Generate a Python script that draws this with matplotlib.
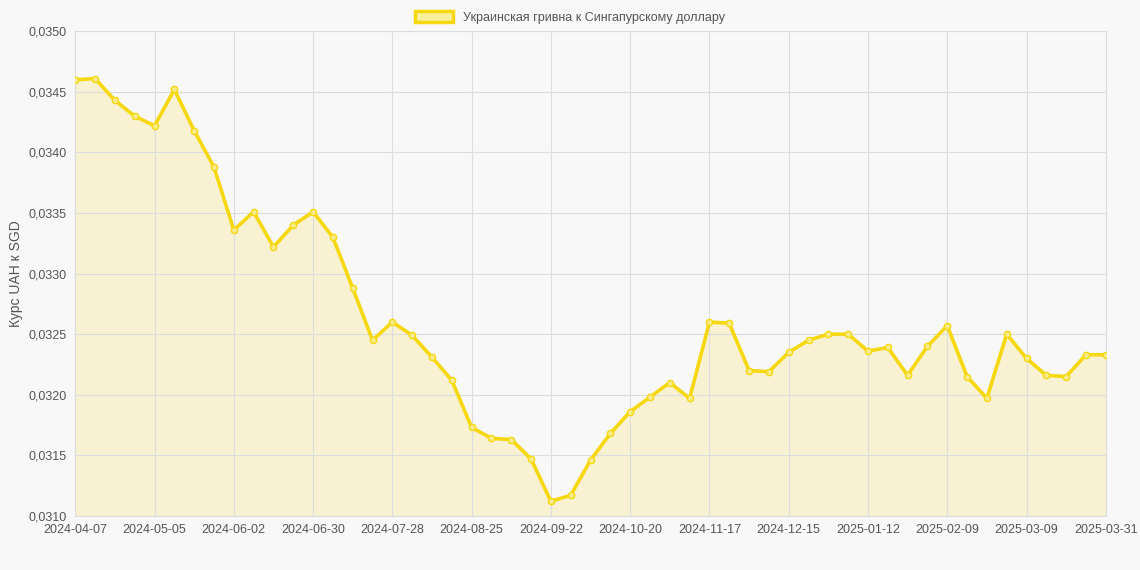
import datetime as dt

import matplotlib
matplotlib.use("Agg")
import matplotlib.pyplot as plt
from matplotlib.patches import Patch

plt.rcParams["font.family"] = ["Liberation Sans", "DejaVu Sans"]

start = dt.date(2024, 4, 7)
dates = [start + dt.timedelta(weeks=i) for i in range(52)] + [dt.date(2025, 3, 31)]
labels = [d.isoformat() for d in dates]
rates = [
    0.03460, 0.03461, 0.03443, 0.03430, 0.03422, 0.03452, 0.03418, 0.03388,
    0.03336, 0.03351, 0.03322, 0.03340, 0.03351, 0.03330, 0.03288, 0.03245,
    0.03260, 0.03249, 0.03231, 0.03212, 0.03173, 0.03164, 0.03163, 0.03147,
    0.03112, 0.03117, 0.03146, 0.03168, 0.03186, 0.03198, 0.03210, 0.03197,
    0.03260, 0.03259, 0.03220, 0.03219, 0.03235, 0.03245, 0.03250, 0.03250,
    0.03236, 0.03239, 0.03216, 0.03240, 0.03257, 0.03215, 0.03197, 0.03250,
    0.03230, 0.03216, 0.03215, 0.03233, 0.03233,
]

line_color = "#f5d80f"
bg = "#f8f8f8"

fig = plt.figure(figsize=(11.4, 5.7), dpi=100, facecolor=bg)
ax = fig.add_axes([0.066, 0.095, 0.904, 0.85], facecolor=bg)
x = list(range(len(rates)))
ax.fill_between(x, rates, 0.0310, color="#f8f2d2", zorder=1)
ax.plot(x, rates, color=line_color, lw=2.6, zorder=3)
ax.plot(x, rates, "o", ms=4.5, mfc="#f8ec8a", mec=line_color, mew=1, zorder=4)

ax.set_xlim(0, len(rates) - 1)
ax.set_ylim(0.0310, 0.0350)
yt = [0.0310 + 0.0005 * i for i in range(9)]
ax.set_yticks(yt)
ax.set_yticklabels([f"{v:.4f}".replace(".", ",") for v in yt])
tick_idx = list(range(0, 49, 4)) + [52]
ax.set_xticks(tick_idx)
ax.set_xticklabels([labels[i] for i in tick_idx])
ax.grid(True, color="#dddddd", lw=0.8)
ax.tick_params(length=0, labelsize=9, colors="#555555", pad=6)
for s in ax.spines.values():
    s.set_color("#dddddd")
ax.set_ylabel("Курс UAH к SGD", color="#555555", fontsize=10)

fig.legend(handles=[Patch(facecolor="#f8ef9c", edgecolor=line_color, lw=2.5)],
           labels=["Украинская гривна к Сингапурскому доллару"],
           loc="upper center", bbox_to_anchor=(0.5, 1.0), frameon=False,
           fontsize=9, labelcolor="#555555", handlelength=3, handleheight=0.9)

fig.savefig("out.png", dpi=100, facecolor=bg)
